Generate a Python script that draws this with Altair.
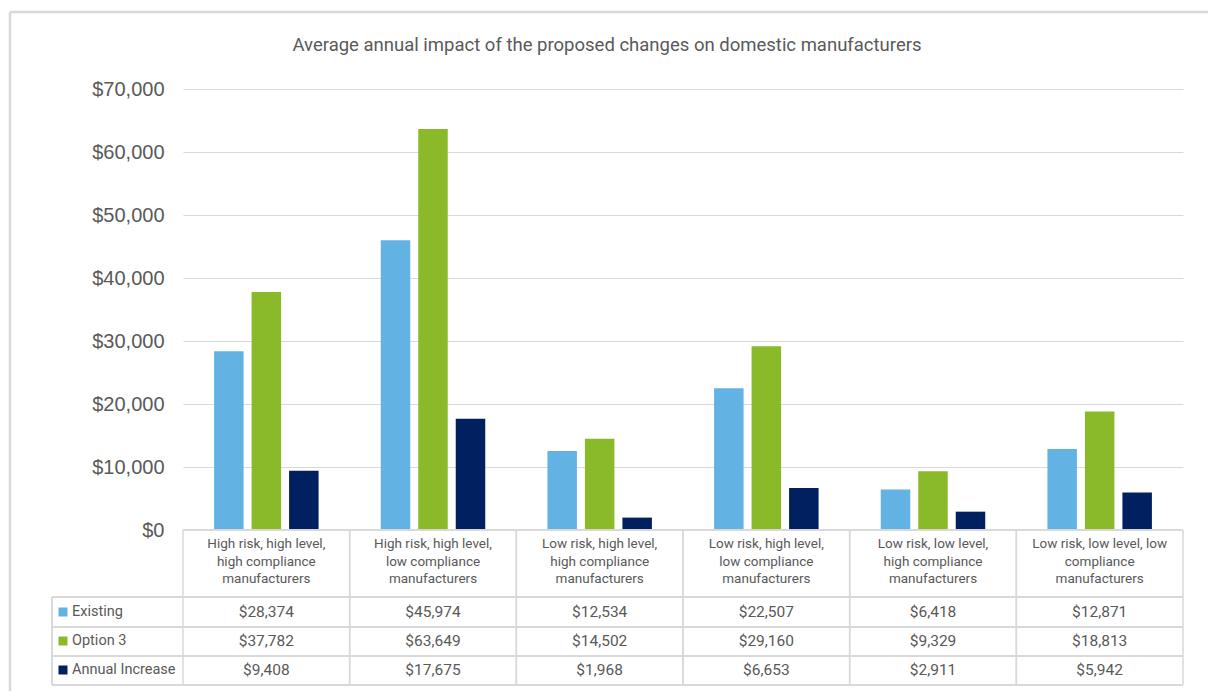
import altair as alt
import pandas as pd

title_text = "Average annual impact of the proposed changes on domestic manufacturers"

categories = ["HHH", "HHL", "LHH", "LHL", "LLH", "LLL"]
category_labels = [
    "High risk, high level,\nhigh compliance\nmanufacturers",
    "High risk, high level,\nlow compliance\nmanufacturers",
    "Low risk, high level,\nhigh compliance\nmanufacturers",
    "Low risk, high level,\nlow compliance\nmanufacturers",
    "Low risk, low level,\nhigh compliance\nmanufacturers",
    "Low risk, low level, low\ncompliance\nmanufacturers",
]
series = ["Existing", "Option 3", "Annual Increase"]
existing = [28374, 45974, 12534, 22507, 6418, 12871]
option3 = [37782, 63649, 14502, 29160, 9329, 18813]
annual = [9408, 17675, 1968, 6653, 2911, 5942]
colors = ["#63B2E4", "#8ABA2A", "#002060"]
y_ticks = [0, 10000, 20000, 30000, 40000, 50000, 60000, 70000]

rows = []
for s, vals in zip(series, [existing, option3, annual]):
    for c, v in zip(categories, vals):
        rows.append({"cat": c, "series": s, "value": v})
df = pd.DataFrame(rows)
cat_df = pd.DataFrame({"cat": categories, "label": category_labels})
ser_df = pd.DataFrame({"series": series})
title_df = pd.DataFrame({"t": [title_text]})

W, H = 1000, 441
grid = "#D9D9D9"
txt = "#595959"
font = "Roboto, Liberation Sans, sans-serif"

xcat = alt.X("cat:N", sort=categories, scale=alt.Scale(paddingInner=0, paddingOuter=0), axis=None)

bars = alt.Chart(df).mark_bar().encode(
    x=xcat,
    xOffset=alt.XOffset("series:N", sort=series, scale=alt.Scale(paddingInner=0.213, paddingOuter=0.829)),
    y=alt.Y("value:Q", scale=alt.Scale(domain=[0, 70000]),
            axis=alt.Axis(values=y_ticks, format="$,.0f", title=None, ticks=False, domain=False,
                          labelFont="Liberation Sans", labelFontSize=20, labelColor=txt,
                          labelPadding=19, gridColor=grid, gridWidth=1.2)),
    color=alt.Color("series:N", scale=alt.Scale(domain=series, range=colors), legend=None),
)

row_y = [523, 552, 581]
hlines_y = [H, 508, 538, 567, 596]

layers = [bars]

# table horizontal lines
for i, yy in enumerate(hlines_y):
    layers.append(alt.Chart(ser_df).mark_rule(color=grid, strokeWidth=1.5).encode(
        x=alt.value(0 if i == 0 else -131), x2=alt.value(W), y=alt.value(yy)))
# table vertical lines
for bp in [0, 1]:
    layers.append(alt.Chart(cat_df).mark_rule(color=grid, strokeWidth=1.5).encode(
        x=alt.X("cat:N", sort=categories, bandPosition=bp, axis=None),
        y=alt.value(H), y2=alt.value(596)))
layers.append(alt.Chart(ser_df).mark_rule(color=grid, strokeWidth=1.5).encode(
    x=alt.value(-131), y=alt.value(508), y2=alt.value(596)))

# category labels
layers.append(alt.Chart(cat_df).mark_text(
    lineBreak="\n", baseline="top", align="center", font=font, fontSize=13.5,
    color=txt, lineHeight=17.5).encode(x=xcat, y=alt.value(H + 7), text="label:N"))

# values and legend entries per row
for s, ry in zip(series, row_y):
    layers.append(alt.Chart(df).transform_filter(alt.datum.series == s).mark_text(
        align="center", baseline="middle", font=font, fontSize=15.5, color=txt).encode(
        x=xcat, y=alt.value(ry), text=alt.Text("value:Q", format="$,.0f")))
    layers.append(alt.Chart(ser_df).transform_filter(alt.datum.series == s).mark_square(
        size=81, opacity=1).encode(
        x=alt.value(-120), y=alt.value(ry),
        color=alt.Color("series:N", scale=alt.Scale(domain=series, range=colors), legend=None)))
    layers.append(alt.Chart(ser_df).transform_filter(alt.datum.series == s).mark_text(
        align="left", baseline="middle", font=font, fontSize=14.5, color=txt).encode(
        x=alt.value(-111), y=alt.value(ry), text="series:N"))

# title
layers.append(alt.Chart(title_df).mark_text(
    align="center", baseline="middle", font=font, fontSize=18.5, color=txt).encode(
    x=alt.value(424), y=alt.value(-44), text="t:N"))

# outer frame
layers.append(alt.Chart(title_df).mark_rule(color=grid, strokeWidth=2.5).encode(
    x=alt.value(-173), x2=alt.value(1030), y=alt.value(-77)))
layers.append(alt.Chart(title_df).mark_rule(color=grid, strokeWidth=2.5).encode(
    x=alt.value(-173), y=alt.value(-77), y2=alt.value(610)))

chart = alt.layer(*layers).properties(
    width=W, height=H,
    autosize=alt.AutoSizeParams(type="none"),
    padding={"left": 183, "top": 89, "right": 25, "bottom": 161},
).configure(background="white", view=alt.ViewConfig(stroke="transparent", strokeWidth=0))

chart.save("out.html", embed_options={"renderer": "svg", "actions": False})
